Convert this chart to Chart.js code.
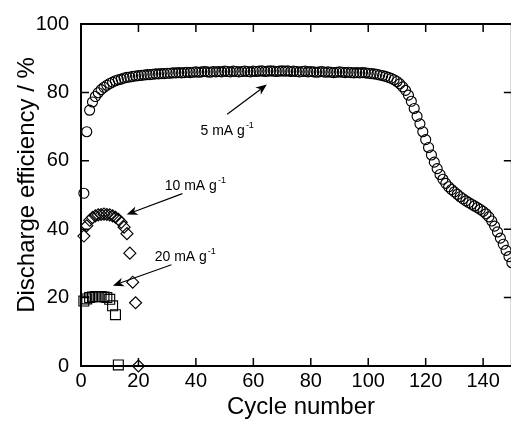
<!DOCTYPE html>
<html>
<head>
<meta charset="utf-8">
<script src="https://cdn.jsdelivr.net/npm/chart.js@4/dist/chart.umd.min.js"></script>
<style>
  html, body { margin: 0; padding: 0; background: #fff; overflow: hidden; }
  #wrap { width: 520px; height: 421px; }
</style>
</head>
<body>
<div id="wrap"><canvas id="myChart" width="520" height="421"></canvas></div>
<script>
// discharge efficiency (%) per cycle, first value is cycle 1
var eff5mA = [
  50.5, 68.5, 74.8, 77.2, 78.8, 79.9, 80.8, 81.5, 82.1, 82.6,
  83.0, 83.4, 83.7, 83.9, 84.2, 84.4, 84.5, 84.7, 84.8, 84.9,
  85.0, 85.1, 85.2, 85.2, 85.3, 85.4, 85.4, 85.5, 85.5, 85.6,
  85.6, 85.7, 85.7, 85.8, 85.7, 85.8, 85.9, 85.8, 85.9, 86.0,
  85.9, 86.0, 86.1, 86.0, 85.9, 86.1, 86.0, 86.1, 86.0, 86.2,
  86.1, 86.0, 86.2, 86.1, 86.0, 86.1, 86.2, 86.1, 86.0, 86.2,
  86.1, 86.2, 86.3, 86.1, 86.2, 86.3, 86.2, 86.1, 86.2, 86.3,
  86.2, 86.3, 86.1, 86.2, 86.1, 86.0, 86.1, 86.2, 86.0, 86.1,
  86.0, 85.9, 86.0, 86.1, 85.9, 86.0, 85.9, 85.8, 85.9, 86.0,
  85.9, 85.8, 85.9, 85.8, 85.7, 85.8, 85.7, 85.8, 85.7, 85.6,
  85.5, 85.4, 85.3, 85.1, 84.9, 84.7, 84.4, 84.1, 83.7, 83.2,
  82.5, 81.6, 80.6, 79.2, 77.4, 75.3, 73.0, 70.8, 68.5, 66.2,
  63.9, 61.7, 59.6, 57.7, 56.0, 54.6, 53.4, 52.4, 51.6, 50.9,
  50.2, 49.5, 48.9, 48.3, 47.8, 47.3, 46.8, 46.3, 45.8, 45.2,
  44.5, 43.6, 42.4, 40.9, 39.2, 37.4, 35.6, 33.8, 32.0, 30.2
];
var eff10mA = [
  38.0, 41.0, 42.6, 43.4, 43.9, 44.2, 44.3, 44.4, 44.3, 44.2,
  43.9, 43.5, 42.9, 42.0, 40.6, 38.7, 33.0, 24.5, 18.5, 0
];
var eff20mA = [
  19.0, 19.6, 20.0, 20.2, 20.3, 20.3, 20.3, 20.2, 20.0, 19.5,
  17.6, 15.0, 0.3
];

var xTicks = [0, 20, 40, 60, 80, 100, 120, 140];
var yTicks = [0, 20, 40, 60, 80, 100];

// label text, text anchor and arrow (tail -> head) in data units
var notes = [
  {text: '5 mA g', at: [50.9, 69.0], from: [50.9, 73.6], to: [64.7, 82.3]},
  {text: '10 mA g', at: [39.8, 53.0], from: [35.3, 50.4], to: [15.9, 44.3]},
  {text: '20 mA g', at: [36.3, 32.2], from: [31.5, 29.6], to: [11.1, 23.5]}
];

function toPoints(values) {
  return values.map(function (v, i) { return {x: i + 1, y: v}; });
}

var FONT = '"Liberation Sans", Arial, Helvetica, sans-serif';

// frame with inward ticks on all four sides
var framePlugin = {
  id: 'frame',
  beforeDatasetsDraw: function (chart) {
    var c = chart.ctx, a = chart.chartArea;
    var xs = chart.scales.x, ys = chart.scales.y;
    var len = 8;
    c.save();
    c.strokeStyle = '#000';
    c.lineWidth = 2;
    c.strokeRect(a.left, a.top, a.right - a.left, a.bottom - a.top);
    c.lineWidth = 1.5;
    c.beginPath();
    xTicks.forEach(function (t) {
      var px = xs.getPixelForValue(t);
      c.moveTo(px, a.bottom); c.lineTo(px, a.bottom - len);
      c.moveTo(px, a.top); c.lineTo(px, a.top + len);
    });
    yTicks.forEach(function (t) {
      var py = ys.getPixelForValue(t);
      c.moveTo(a.left, py); c.lineTo(a.left + len, py);
      c.moveTo(a.right, py); c.lineTo(a.right - len, py);
    });
    c.stroke();

    // axis titles
    c.fillStyle = '#000';
    c.font = '24px ' + FONT;
    c.textAlign = 'center';
    c.textBaseline = 'middle';
    c.fillText('Cycle number', 301, 407);
    c.translate(27, 185);
    c.rotate(-Math.PI / 2);
    c.fillText('Discharge efficiency / %', 0, 0);
    c.restore();
  }
};

var notesPlugin = {
  id: 'notes',
  afterDatasetsDraw: function (chart) {
    var c = chart.ctx;
    var xs = chart.scales.x, ys = chart.scales.y;
    c.save();
    c.fillStyle = '#000';
    c.strokeStyle = '#000';
    notes.forEach(function (n) {
      var x0 = xs.getPixelForValue(n.from[0]), y0 = ys.getPixelForValue(n.from[1]);
      var x1 = xs.getPixelForValue(n.to[0]), y1 = ys.getPixelForValue(n.to[1]);
      var ang = Math.atan2(y1 - y0, x1 - x0);
      var hl = 11, hw = 4.5;
      c.lineWidth = 1.2;
      c.beginPath();
      c.moveTo(x0, y0);
      c.lineTo(x1 - Math.cos(ang) * hl * 0.7, y1 - Math.sin(ang) * hl * 0.7);
      c.stroke();
      c.beginPath();
      c.moveTo(x1, y1);
      c.lineTo(x1 - Math.cos(ang) * hl - Math.sin(ang) * hw, y1 - Math.sin(ang) * hl + Math.cos(ang) * hw);
      c.lineTo(x1 - Math.cos(ang) * hl * 0.7, y1 - Math.sin(ang) * hl * 0.7);
      c.lineTo(x1 - Math.cos(ang) * hl + Math.sin(ang) * hw, y1 - Math.sin(ang) * hl - Math.cos(ang) * hw);
      c.closePath();
      c.fill();

      // label with superscript -1
      var tx = xs.getPixelForValue(n.at[0]), ty = ys.getPixelForValue(n.at[1]);
      c.font = '14px ' + FONT;
      var w1 = c.measureText(n.text).width;
      c.font = '9px ' + FONT;
      var w2 = c.measureText('-1').width;
      var left = tx - (w1 + w2 + 1) / 2;
      c.textBaseline = 'alphabetic';
      c.textAlign = 'left';
      c.font = '14px ' + FONT;
      c.fillText(n.text, left, ty + 5);
      c.font = '9px ' + FONT;
      c.fillText('-1', left + w1 + 1, ty - 2);
    });
    c.restore();
  }
};

var pointStyle = {
  borderColor: '#000',
  backgroundColor: 'rgba(0,0,0,0)',
  borderWidth: 1.15,
  showLine: false,
  clip: false
};

var ctx = document.getElementById('myChart').getContext('2d');
var myChart = new Chart(ctx, {
  type: 'scatter',
  data: {
    datasets: [
      Object.assign({label: '5 mA g-1', data: toPoints(eff5mA), pointStyle: 'circle', pointRadius: 5}, pointStyle),
      Object.assign({label: '10 mA g-1', data: toPoints(eff10mA), pointStyle: 'rectRot', pointRadius: 6}, pointStyle),
      Object.assign({label: '20 mA g-1', data: toPoints(eff20mA), pointStyle: 'rect', pointRadius: 7}, pointStyle)
    ]
  },
  options: {
    responsive: false,
    animation: false,
    devicePixelRatio: 1,
    layout: {padding: {left: 0, top: 21, right: 6, bottom: 0}},
    plugins: {
      legend: {display: false},
      tooltip: {enabled: false}
    },
    scales: {
      x: {
        type: 'linear',
        min: 0,
        max: 150,
        afterFit: function (s) { s.height = 55; },
        afterBuildTicks: function (s) { s.ticks = xTicks.map(function (v) { return {value: v}; }); },
        grid: {display: false, drawTicks: false},
        border: {display: false},
        ticks: {color: '#000', padding: 3, font: {family: FONT, size: 20}, maxRotation: 0},
        title: {display: false}
      },
      y: {
        type: 'linear',
        min: 0,
        max: 100,
        afterFit: function (s) { s.width = 81; },
        afterBuildTicks: function (s) { s.ticks = yTicks.map(function (v) { return {value: v}; }); },
        grid: {display: false, drawTicks: false},
        border: {display: false},
        ticks: {color: '#000', padding: 12, font: {family: FONT, size: 20}},
        title: {display: false}
      }
    }
  },
  plugins: [framePlugin, notesPlugin]
});
</script>
</body>
</html>
